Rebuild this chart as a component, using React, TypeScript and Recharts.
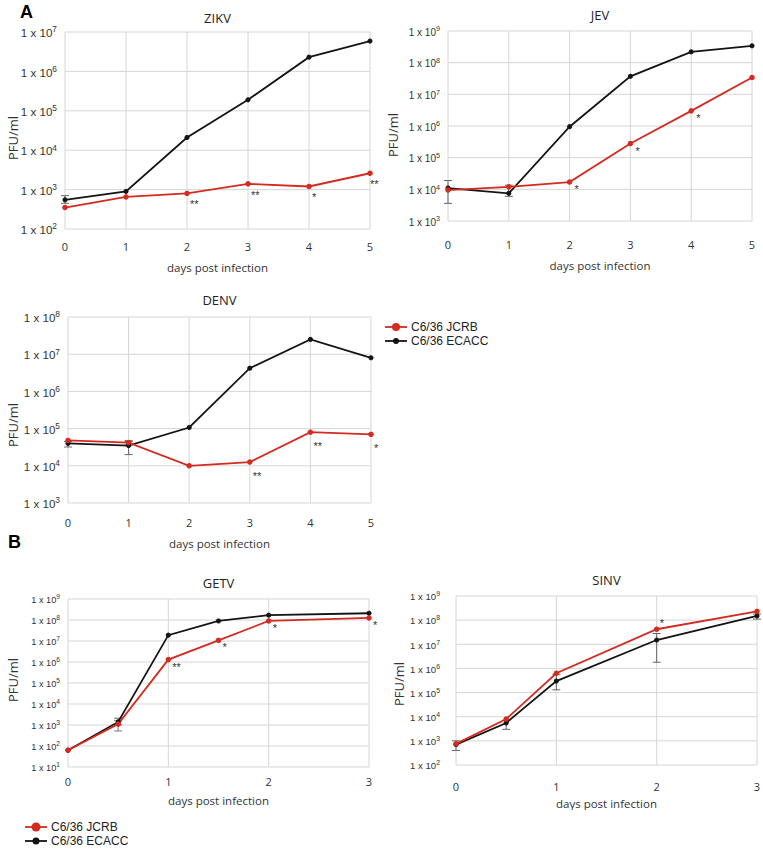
import {CartesianGrid, ErrorBar, LabelList, Line, LineChart, XAxis, YAxis} from 'recharts';

const RED = '#d42a20';
const BLACK = '#141414';
const GRID = '#d6d6d6';
const SANS = '"Liberation Sans", Arial, sans-serif';
const OPEN = '"Open Sans", "Liberation Sans", sans-serif';

type Range = [number, number] | null;

// ZIKV
const zikvDays = [0, 1, 2, 3, 4, 5];
const zikvJcrb = [350, 650, 800, 1400, 1200, 2600];
const zikvEcacc = [550, 900, 21000, 190000, 2300000, 5900000];
const zikvJcrbErr: Range[] = [null, null, null, null, null, null];
const zikvEcaccErr: Range[] = [[450, 700], null, null, null, null, null];
const zikvSig = ['', '', '**', '**', '*', '**'];
const zikvTicks = [1e2, 1e3, 1e4, 1e5, 1e6, 1e7];

// JEV
const jevDays = [0, 1, 2, 3, 4, 5];
const jevJcrb = [9500, 12000, 17000, 280000, 3000000, 34000000];
const jevEcacc = [11000, 7500, 950000, 37000000, 220000000, 340000000];
const jevJcrbErr: Range[] = [null, null, null, null, null, null];
const jevEcaccErr: Range[] = [[3600, 19000], [6000, 13500], null, null, null, null];
const jevSig = ['', '', '*', '*', '*', ''];
const jevTicks = [1e3, 1e4, 1e5, 1e6, 1e7, 1e8, 1e9];

// DENV
const denvDays = [0, 1, 2, 3, 4, 5];
const denvJcrb = [48000, 42000, 10000, 12600, 80000, 70000];
const denvEcacc = [40000, 35000, 107000, 4200000, 25000000, 8000000];
const denvJcrbErr: Range[] = [null, [38000, 48000], null, null, null, null];
const denvEcaccErr: Range[] = [[32000, 45000], [20000, 45000], null, null, null, null];
const denvSig = ['', '', '', '**', '**', '*'];
const denvTicks = [1e3, 1e4, 1e5, 1e6, 1e7, 1e8];

// GETV
const getvDays = [0, 0.5, 1, 1.5, 2, 3];
const getvJcrb = [63, 1100, 1300000, 10700000, 90000000, 125000000];
const getvEcacc = [63, 1400, 19000000, 90000000, 170000000, 210000000];
const getvJcrbErr: Range[] = [null, [520, 1600], null, null, null, null];
const getvEcaccErr: Range[] = [null, [1000, 2100], null, null, null, null];
const getvSig = ['', '', '**', '*', '*', '*'];
const getvTicks = [1e1, 1e2, 1e3, 1e4, 1e5, 1e6, 1e7, 1e8, 1e9];

// SINV
const sinvDays = [0, 0.5, 1, 2, 3];
const sinvJcrb = [750, 8000, 630000, 42000000, 230000000];
const sinvEcacc = [700, 5500, 300000, 15000000, 150000000];
const sinvJcrbErr: Range[] = [null, null, null, null, null];
const sinvEcaccErr: Range[] = [[400, 1000], [3000, 7000], [130000, 570000], [1800000, 28000000], [110000000, 180000000]];
const sinvSig = ['', '', '', '*', ''];
const sinvTicks = [1e2, 1e3, 1e4, 1e5, 1e6, 1e7, 1e8, 1e9];

const toDelta = (v: number, r: Range) => (r ? [v - r[0], r[1] - v] : undefined);

function buildRows(days: number[], jcrb: number[], ecacc: number[], jErr: Range[], eErr: Range[], sig: string[]) {
  return days.map((d, i) => ({
    day: d,
    jcrb: jcrb[i],
    ecacc: ecacc[i],
    jcrbErr: toDelta(jcrb[i], jErr[i]),
    ecaccErr: toDelta(ecacc[i], eErr[i]),
    sig: sig[i] || undefined,
  }));
}

interface PanelProps {
  title: string;
  rows: ReturnType<typeof buildRows>;
  yTicks: number[];
  xMax: number;
  box: {l: number; t: number; w: number; h: number};
  plot: {x0: number; x1: number; y0: number; y1: number};
  yFont: number;
  yGap: number;
  xGap: number;
  titleY: number;
  xLabelY: number;
  yLabel: {x: number; y: number};
  sigOffset: [number, number];
}

const X_AXIS_H = 40;

function PowTick(props: any) {
  const {x, y, payload, fontSize} = props;
  const exp = Math.round(Math.log10(payload.value));
  return (
    <text x={x} y={y + fontSize * 0.45} textAnchor="end" fontSize={fontSize} fill="#333" fontFamily={SANS}>
      1 x 10
      <tspan dy={-fontSize * 0.42} fontSize={fontSize * 0.72}>{exp}</tspan>
    </text>
  );
}

function Panel(p: PanelProps) {
  const {box, plot} = p;
  const xTicks = Array.from({length: p.xMax + 1}, (_, i) => i);
  const cx = (plot.x0 + plot.x1) / 2;
  const renderSig = (lp: any) => {
    if (!lp.value) return null;
    const vb = lp.viewBox || {};
    const x = lp.x ?? vb.x;
    const y = lp.y ?? vb.y;
    // keep the marks inside the panel
    const tx = Math.min(x + p.sigOffset[0], box.w - 1 - String(lp.value).length * 4.5);
    return (
      <text x={tx} y={y + p.sigOffset[1] + 6} fontSize={11} fill="#333" fontFamily={SANS}>
        {lp.value}
      </text>
    );
  };
  return (
    <div style={{position: 'absolute', left: box.l, top: box.t}}>
      <div
        style={{
          position: 'absolute',
          left: cx - box.l,
          top: p.titleY - box.t,
          transform: 'translate(-50%, -50%)',
          fontFamily: OPEN,
          fontSize: 13,
          lineHeight: 1,
          color: '#222',
          whiteSpace: 'nowrap',
        }}
      >
        {p.title}
      </div>
      <LineChart
        width={box.w}
        height={box.h}
        data={p.rows}
        margin={{
          top: plot.y0 - box.t,
          right: box.l + box.w - plot.x1,
          bottom: box.t + box.h - plot.y1 - X_AXIS_H,
          left: 0,
        }}
      >
        <CartesianGrid stroke={GRID} strokeWidth={1} />
        <XAxis
          dataKey="day"
          type="number"
          domain={[0, p.xMax]}
          ticks={xTicks}
          interval={0}
          axisLine={false}
          tickLine={false}
          tickSize={0}
          tickMargin={p.xGap}
          height={X_AXIS_H}
          tick={{fontSize: 11, fill: '#333', fontFamily: OPEN}}
          label={() => (
            <text x={cx - box.l} y={p.xLabelY - box.t} textAnchor="middle" dominantBaseline="central" fontSize={11.5} fill="#333" fontFamily={OPEN}>
              days post infection
            </text>
          )}
        />
        <YAxis
          type="number"
          scale="log"
          domain={[p.yTicks[0], p.yTicks[p.yTicks.length - 1]]}
          allowDataOverflow
          ticks={p.yTicks}
          interval={0}
          axisLine={false}
          tickLine={false}
          tickSize={0}
          tickMargin={p.yGap}
          width={plot.x0 - box.l}
          tick={<PowTick fontSize={p.yFont} />}
          label={() => (
            <text
              x={p.yLabel.x - box.l}
              y={p.yLabel.y - box.t}
              transform={`rotate(-90, ${p.yLabel.x - box.l}, ${p.yLabel.y - box.t})`}
              textAnchor="middle"
              dominantBaseline="central"
              fontSize={13}
              fill="#333"
              fontFamily={OPEN}
            >
              PFU/ml
            </text>
          )}
        />
        <Line
          type="linear"
          dataKey="ecacc"
          stroke={BLACK}
          strokeWidth={1.8}
          dot={{r: 2.1, fill: BLACK, stroke: BLACK, strokeWidth: 1}}
          isAnimationActive={false}
        >
          <ErrorBar dataKey="ecaccErr" direction="y" width={4} stroke="#666" strokeWidth={1} />
        </Line>
        <Line
          type="linear"
          dataKey="jcrb"
          stroke={RED}
          strokeWidth={1.8}
          dot={{r: 2.3, fill: RED, stroke: RED, strokeWidth: 1}}
          isAnimationActive={false}
        >
          <ErrorBar dataKey="jcrbErr" direction="y" width={4} stroke="#777" strokeWidth={1} />
          <LabelList dataKey="sig" content={renderSig} />
        </Line>
      </LineChart>
    </div>
  );
}

function LegendBox({left, top, bigDot}: {left: number; top: number; bigDot: number}) {
  const items = [
    {label: 'C6/36 JCRB', color: RED, r: bigDot},
    {label: 'C6/36 ECACC', color: BLACK, r: bigDot - 1},
  ];
  return (
    <div style={{position: 'absolute', left, top, fontFamily: SANS, fontSize: 12, color: '#222'}}>
      {items.map(it => (
        <div key={it.label} style={{display: 'flex', alignItems: 'center', height: 14}}>
          <svg width={24} height={12} style={{marginRight: 3}}>
            <line x1={1} y1={6} x2={23} y2={6} stroke={it.color} strokeWidth={1.8} />
            <circle cx={12} cy={6} r={it.r} fill={it.color} />
          </svg>
          <span style={{lineHeight: 1}}>{it.label}</span>
        </div>
      ))}
    </div>
  );
}

export default function App() {
  return (
    <div style={{position: 'absolute', left: 0, top: 0, width: 763, height: 849, background: '#fff', overflow: 'hidden'}}>
      <div style={{position: 'absolute', left: 20, top: 2, fontFamily: SANS, fontWeight: 700, fontSize: 18}}>A</div>
      <div style={{position: 'absolute', left: 8, top: 532, fontFamily: SANS, fontWeight: 700, fontSize: 18}}>B</div>

      <Panel
        title="ZIKV"
        rows={buildRows(zikvDays, zikvJcrb, zikvEcacc, zikvJcrbErr, zikvEcaccErr, zikvSig)}
        yTicks={zikvTicks}
        xMax={5}
        box={{l: 0, t: 0, w: 380, h: 280}}
        plot={{x0: 65, x1: 370, y0: 32, y1: 229}}
        yFont={11.6}
        yGap={8}
        xGap={14}
        titleY={18}
        xLabelY={267}
        yLabel={{x: 13, y: 138}}
        sigOffset={[3, 9]}
      />
      <Panel
        title="JEV"
        rows={buildRows(jevDays, jevJcrb, jevEcacc, jevJcrbErr, jevEcaccErr, jevSig)}
        yTicks={jevTicks}
        xMax={5}
        box={{l: 380, t: 0, w: 383, h: 280}}
        plot={{x0: 448, x1: 752, y0: 31, y1: 221}}
        yFont={10}
        yGap={8}
        xGap={20}
        titleY={15}
        xLabelY={265}
        yLabel={{x: 393, y: 135}}
        sigOffset={[5, 5]}
      />
      <Panel
        title="DENV"
        rows={buildRows(denvDays, denvJcrb, denvEcacc, denvJcrbErr, denvEcaccErr, denvSig)}
        yTicks={denvTicks}
        xMax={5}
        box={{l: 0, t: 280, w: 380, h: 280}}
        plot={{x0: 68, x1: 371, y0: 317, y1: 503}}
        yFont={11.6}
        yGap={8}
        xGap={16}
        titleY={300}
        xLabelY={543}
        yLabel={{x: 13, y: 425}}
        sigOffset={[3, 12]}
      />
      <Panel
        title="GETV"
        rows={buildRows(getvDays, getvJcrb, getvEcacc, getvJcrbErr, getvEcaccErr, getvSig)}
        yTicks={getvTicks}
        xMax={3}
        box={{l: 0, t: 560, w: 380, h: 250}}
        plot={{x0: 68, x1: 369, y0: 599, y1: 767}}
        yFont={9.2}
        yGap={8}
        xGap={11}
        titleY={583}
        xLabelY={800}
        yLabel={{x: 13, y: 680}}
        sigOffset={[4, 5]}
      />
      <Panel
        title="SINV"
        rows={buildRows(sinvDays, sinvJcrb, sinvEcacc, sinvJcrbErr, sinvEcaccErr, sinvSig)}
        yTicks={sinvTicks}
        xMax={3}
        box={{l: 380, t: 560, w: 383, h: 250}}
        plot={{x0: 456, x1: 757, y0: 596, y1: 765}}
        yFont={9.6}
        yGap={16}
        xGap={18}
        titleY={580}
        xLabelY={803}
        yLabel={{x: 399, y: 684}}
        sigOffset={[3, -8]}
      />

      <LegendBox left={384} top={320} bigDot={4} />
      <LegendBox left={24} top={820} bigDot={4.5} />
    </div>
  );
}
